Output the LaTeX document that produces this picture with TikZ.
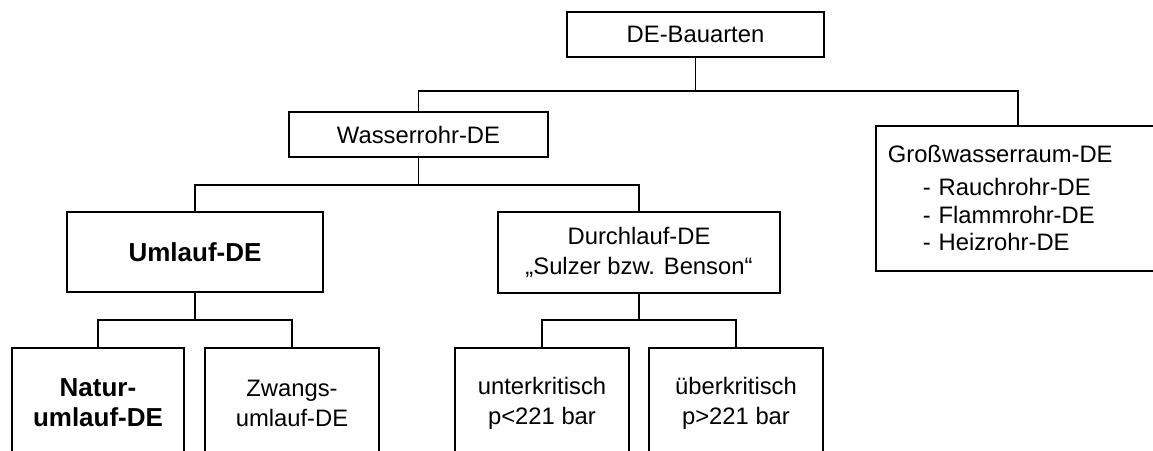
\documentclass[tikz,border=0pt]{standalone}
\usepackage{fontspec}
\setmainfont{Liberation Sans}
\begin{document}
\begin{tikzpicture}[x=1pt,y=-1pt,
  box/.style={draw=black, line width=1.6pt, fill=white, inner sep=0pt, align=center,
    font=\fontsize{23.8pt}{30pt}\selectfont},
  boldbox/.style={box, font=\fontsize{26pt}{30pt}\selectfont\bfseries},
  conn/.style={draw=black, line width=1.8pt}]
\useasboundingbox (0,0) rectangle (1153,450);
\clip (0,0) rectangle (1153,450);
% level 0
\node[box, minimum width=257pt, minimum height=45pt] (top) at (695.5,34.5) {DE-Bauarten};
% level 1
\node[box, minimum width=259pt, minimum height=45pt] (wasser) at (418.5,134.5) {Wasserrohr-DE};
\node[box, anchor=north west, minimum width=284pt, minimum height=145pt, text width=260pt,
  inner xsep=12pt, inner ysep=0pt, align=left, font=\fontsize{23.8pt}{27.5pt}\selectfont] (gross) at (875,125)
  {Großwasserraum-DE\\[5.5pt]
   \hspace*{35pt}- Rauchrohr-DE\\
   \hspace*{35pt}- Flammrohr-DE\\
   \hspace*{35pt}- Heizrohr-DE};
% level 2
\node[boldbox, minimum width=256pt, minimum height=80pt] (umlauf) at (195,252) {Umlauf-DE};
\node[box, minimum width=282pt, minimum height=81pt] (durch) at (639,252.5) {Durchlauf-DE\\„Sulzer bzw. Benson“};
% level 3
\node[boldbox, minimum width=172pt, minimum height=110pt] (natur) at (98,403) {Natur-\\umlauf-DE};
\node[box, minimum width=174pt, minimum height=110pt] (zwangs) at (292,403) {Zwangs-\\umlauf-DE};
\node[box, minimum width=174pt, minimum height=110pt] (unter) at (542,403) {unterkritisch\\p<221 bar};
\node[box, minimum width=174pt, minimum height=110pt] (ueber) at (736,403) {überkritisch\\p>221 bar};
% junctions
\coordinate (j1) at (695.5,91);
\coordinate (j2) at (418.5,185);
\coordinate (j3) at (195,320);
\coordinate (j4) at (639,320);
% connectors
\draw[conn] (top.south) -- (j1);
\draw[conn] (wasser.north) |- (j1) -| (gross.north);
\draw[conn] (wasser.south) -- (j2);
\draw[conn] (umlauf.north) |- (j2) -| (durch.north);
\draw[conn] (umlauf.south) -- (j3);
\draw[conn] (natur.north) |- (j3) -| (zwangs.north);
\draw[conn] (durch.south) -- (j4);
\draw[conn] (unter.north) |- (j4) -| (ueber.north);
\end{tikzpicture}
\end{document}
